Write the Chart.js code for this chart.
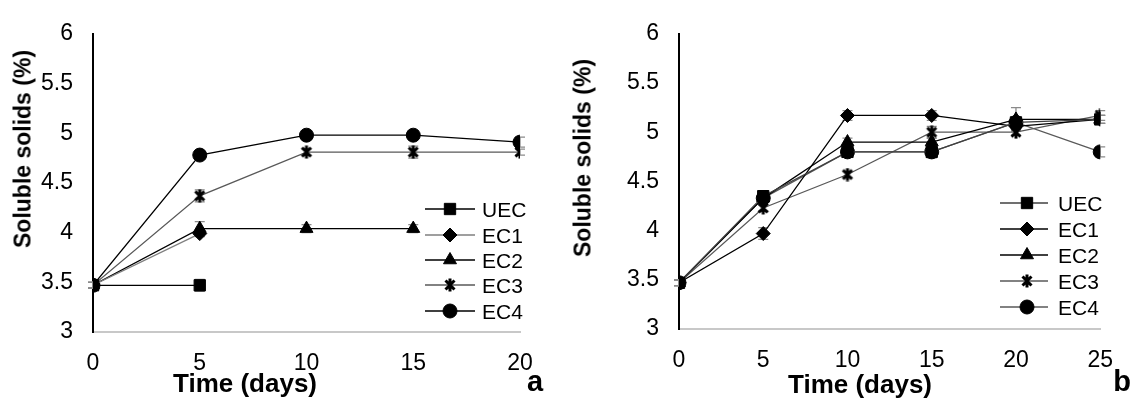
<!DOCTYPE html>
<html><head><meta charset="utf-8">
<script src="https://cdn.jsdelivr.net/npm/chart.js@4/dist/chart.umd.min.js"></script>
<style>
html,body{margin:0;padding:0;background:#fff;}
#wrap{position:relative;width:1131px;height:398px;overflow:hidden;font-family:"Liberation Sans",Arial,sans-serif;}
.cv{position:absolute;top:0;height:398px;}
.t{position:absolute;white-space:nowrap;line-height:1;color:#000;transform:translate(-50%,-50%);}
.lg{position:absolute;white-space:nowrap;line-height:1;color:#000;transform:translate(0,-50%);font-size:21px;}
</style></head><body>
<div id="wrap">
<div class="cv" style="left:0;width:560px"><canvas id="ca"></canvas></div>
<div class="cv" style="left:560px;width:571px"><canvas id="cb"></canvas></div>
</div>
<script>
// ---------- data ----------
const seriesNames = ['UEC','EC1','EC2','EC3','EC4'];
const yTitle = 'Soluble solids (%)';
const xTitle = 'Time (days)';
const panelLabels = ['a','b'];

// panel a
const daysA = [0,5,10,15,20];
const uecA = [3.47,3.47,null,null,null];
const ec1A = [3.47,3.99,null,null,null];
const ec2A = [3.47,4.04,4.04,4.04,null];
const ec3A = [3.47,4.37,4.81,4.81,4.81];
const ec4A = [3.47,4.78,4.98,4.98,4.91];
const errUecA = [0.03,0.06,null,null,null];
const errEc1A = [0.03,0.03,null,null,null];
const errEc2A = [0.03,0.07,0.04,0.04,null];
const errEc3A = [0.03,0.06,0.03,0.06,0.03];
const errEc4A = [0.03,0.02,0.04,0.04,0.05];

// panel b
const daysB = [0,5,10,15,20,25];
const uecB = [3.47,4.35,4.8,4.8,5.1,5.13];
const ec1B = [3.47,3.97,5.17,5.17,5.06,5.13];
const ec2B = [3.47,4.33,4.9,4.9,5.13,5.13];
const ec3B = [3.47,4.23,4.57,5.0,5.0,5.17];
const ec4B = [3.47,4.33,4.8,4.8,5.1,4.8];
const errUecB = [0.03,0.03,0.03,0.03,0.04,0.04];
const errEc1B = [0.03,0.06,0.05,0.05,0.04,0.04];
const errEc2B = [0.03,0.03,0.04,0.04,0.12,0.04];
const errEc3B = [0.03,0.03,0.03,0.06,0.03,0.05];
const errEc4B = [0.03,0.03,0.03,0.06,0.04,0.05];

const yMin = 3, yMax = 6, yStep = 0.5, xStep = 5;

// ---------- styles ----------
function makeStar(size){
  const c=document.createElement('canvas'); c.width=size; c.height=size;
  const g=c.getContext('2d'); g.strokeStyle='#000'; g.lineWidth=3; const m=2.5;
  g.beginPath(); g.moveTo(m,m); g.lineTo(size-m,size-m); g.moveTo(size-m,m); g.lineTo(m,size-m);
  g.moveTo(size/2,0.5); g.lineTo(size/2,size-0.5); g.stroke(); return c;
}
const star = makeStar(14);
const markers = [
  {pointStyle:'rect', radius:8},
  {pointStyle:'rectRot', radius:7},
  {pointStyle:'triangle', radius:7.5},
  {pointStyle:star, radius:7},
  {pointStyle:'circle', radius:7}
];
const FONT = '"Liberation Sans", Arial, sans-serif';

function buildDatasets(days, vals, errs, lineColors){
  return vals.map((v,k)=>({
    label: seriesNames[k],
    data: days.map((d,i)=>({x:d, y:v[i]})),
    errs: errs[k],
    borderColor: lineColors[k], borderWidth: 1.3,
    backgroundColor:'#000', pointBackgroundColor:'#000', pointBorderColor:'#000', pointBorderWidth:1,
    pointStyle: markers[k].pointStyle, pointRadius: markers[k].radius,
    tension:0, fill:false, spanGaps:false
  }));
}

const errPlugin = {
  id:'errbars',
  beforeDatasetsDraw(chart){
    const {ctx, scales:{x,y}} = chart;
    ctx.save(); ctx.strokeStyle='#8a8a8a'; ctx.lineWidth=1.3;
    chart.data.datasets.forEach(ds=>{
      ds.data.forEach((p,i)=>{
        const e = ds.errs[i];
        if (p.y==null || e==null) return;
        const px = x.getPixelForValue(p.x);
        const y1 = y.getPixelForValue(p.y+e), y2 = y.getPixelForValue(p.y-e);
        ctx.beginPath();
        ctx.moveTo(px,y1); ctx.lineTo(px,y2);
        ctx.moveTo(px-5,y1); ctx.lineTo(px+5,y1);
        ctx.moveTo(px-5,y2); ctx.lineTo(px+5,y2);
        ctx.stroke();
      });
    });
    ctx.restore();
  }
};

const legendPlugin = {
  id:'legsym',
  afterDraw(chart, args, opts){
    const ctx = chart.ctx;
    ctx.save();
    chart.data.datasets.forEach((ds,k)=>{
      const yy = opts.rows[k];
      ctx.strokeStyle = ds.borderColor; ctx.lineWidth = 1.3;
      ctx.beginPath(); ctx.moveTo(opts.x0,yy); ctx.lineTo(opts.x1,yy); ctx.stroke();
      ctx.fillStyle='#000'; ctx.strokeStyle='#000'; ctx.lineWidth=1;
      Chart.helpers.drawPoint(ctx, {pointStyle: ds.pointStyle, radius: ds.pointRadius, rotation:0, borderWidth:1}, opts.xm, yy);
    });
    ctx.restore();
  }
};

function makeChart(id, days, vals, errs, colors, xMax, yW, pad, leg){
  return new Chart(document.getElementById(id), {
    type:'line',
    data:{datasets: buildDatasets(days, vals, errs, colors)},
    plugins:[errPlugin, legendPlugin],
    options:{
      animation:false, responsive:true, maintainAspectRatio:false,
      layout:{padding:{top:pad.top, right:pad.right, left:0, bottom:0}},
      plugins:{legend:{display:false}, tooltip:{enabled:false}, legsym:leg},
      scales:{
        x:{type:'linear', min:0, max:xMax,
           ticks:{stepSize:xStep, color:'#000', font:{family:FONT,size:23}, padding:18, maxRotation:0},
           grid:{display:false, drawTicks:false},
           border:{display:true, color:'#c8c8c8', width:2},
           afterFit(s){ s.height = 398 - pad.top - pad.plotH; }},
        y:{min:yMin, max:yMax,
           ticks:{stepSize:yStep, color:'#000', font:{family:FONT,size:23}, padding:20,
                  callback:(v)=>String(Math.round(v*10)/10)},
           grid:{display:false, drawTicks:false},
           border:{display:true, color:'#000', width:2},
           afterFit(s){ s.width = yW; }}
      }
    }
  });
}

const chartA = makeChart('ca', daysA, [uecA,ec1A,ec2A,ec3A,ec4A], [errUecA,errEc1A,errEc2A,errEc3A,errEc4A],
  ['#000','#7f7f7f','#000','#595959','#000'], 20, 93,
  {top:23, right:40, plotH:309},
  {rows:[209,235,260,285,311], x0:425, x1:475, xm:450});
const chartB = makeChart('cb', daysB, [uecB,ec1B,ec2B,ec3B,ec4B], [errUecB,errEc1B,errEc2B,errEc3B,errEc4B],
  ['#404040','#000','#000','#595959','#595959'], 25, 119,
  {top:26, right:26, plotH:303},
  {rows:[203,229,255,281,307], x0:440, x1:488, xm:467});

// ---------- text ----------
const wrap = document.getElementById('wrap');
function addText(txt, cls, x, y, style){
  const d=document.createElement('div'); d.className=cls; d.textContent=txt;
  d.style.left=x+'px'; d.style.top=y+'px'; Object.assign(d.style, style||{}); wrap.appendChild(d);
}
addText(yTitle,'t',23,149,{fontWeight:'bold',fontSize:'23px',transform:'translate(-50%,-50%) rotate(-90deg)'});
addText(yTitle,'t',583,158,{fontWeight:'bold',fontSize:'23px',transform:'translate(-50%,-50%) rotate(-90deg)'});
addText(xTitle,'t',245,383,{fontWeight:'bold',fontSize:'26px'});
addText(xTitle,'t',860,384,{fontWeight:'bold',fontSize:'26px'});
addText(panelLabels[0],'t',535,381,{fontWeight:'bold',fontSize:'29px'});
addText(panelLabels[1],'t',1122,381,{fontWeight:'bold',fontSize:'29px'});
const legRowsA=[209,235,260,285,311], legRowsB=[203,229,255,281,307];
seriesNames.forEach((n,k)=>{
  addText(n,'lg',482,legRowsA[k]);
  addText(n,'lg',1058,legRowsB[k]);
});
</script>
</body></html>
